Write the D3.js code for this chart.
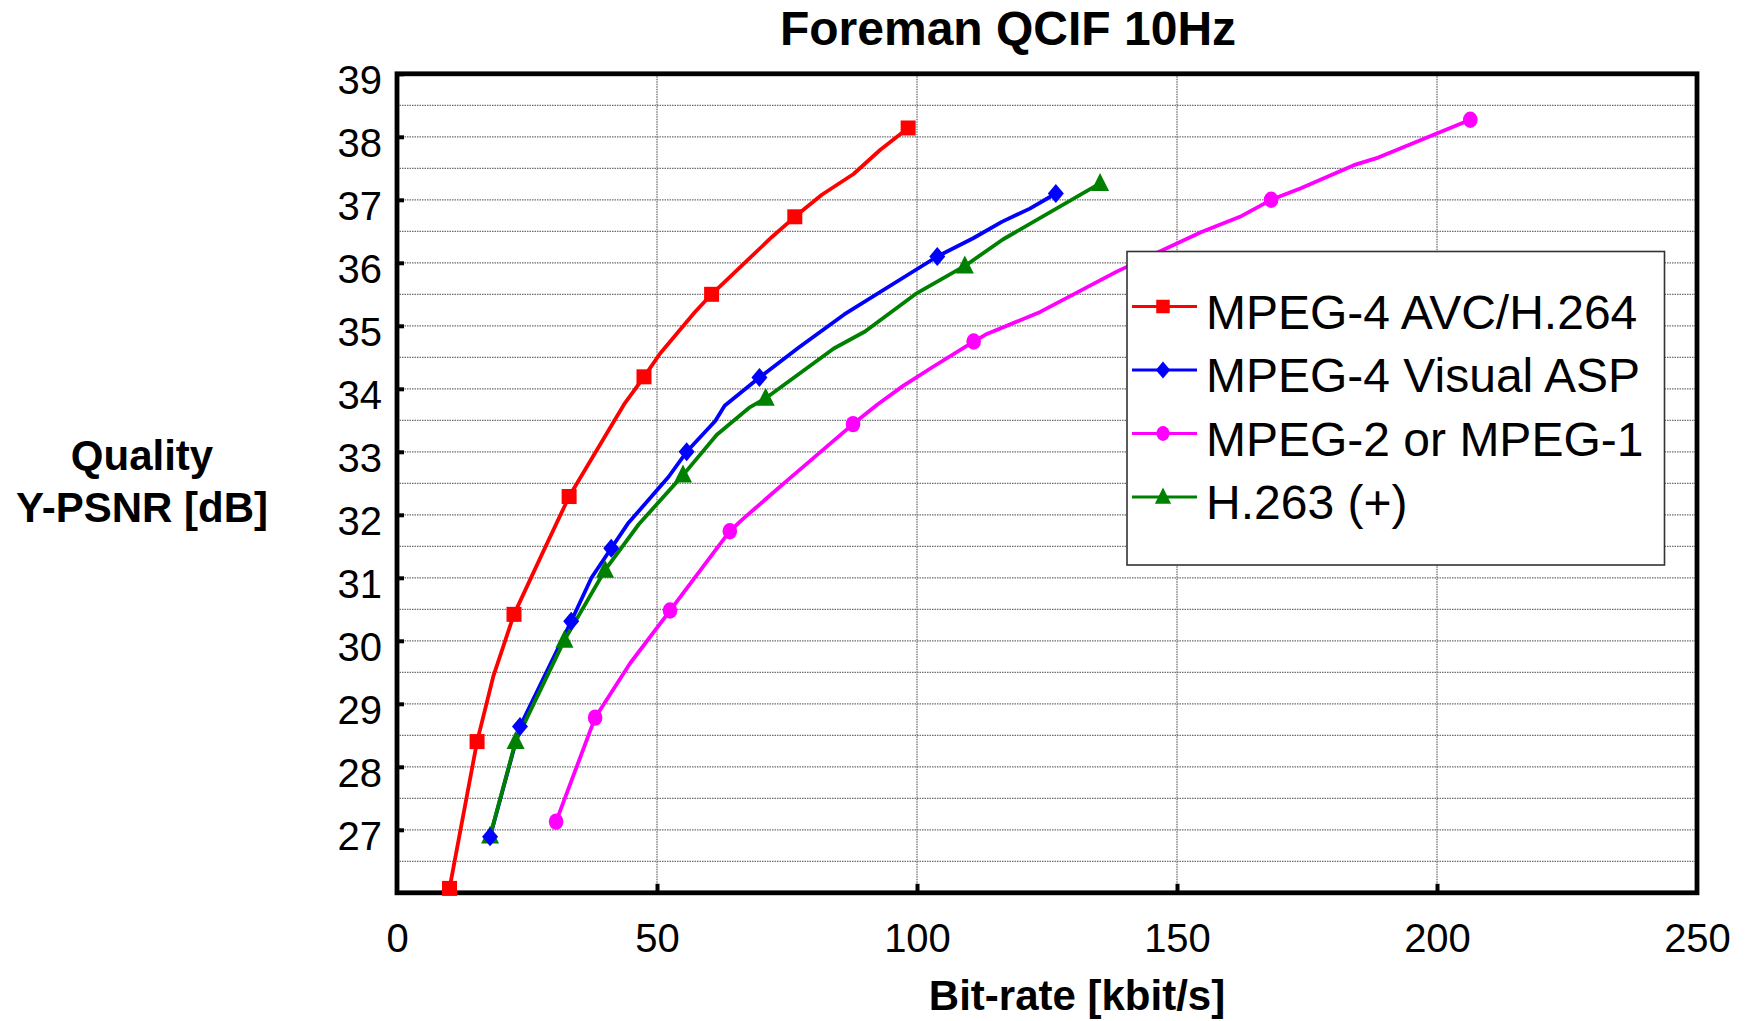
<!DOCTYPE html>
<html>
<head>
<meta charset="utf-8">
<script src="https://cdn.jsdelivr.net/npm/d3@7"></script>
<style>
  html, body { margin: 0; padding: 0; background: #fff; }
  svg { display: block; }
  text { font-family: "Liberation Sans", Arial, Helvetica, sans-serif; fill: #000; }
</style>
</head>
<body>
<svg id="chart" width="1754" height="1021"></svg>
<script>
// ---------------- data ----------------
const chartTitle = "Foreman QCIF 10Hz";
const xTitle = "Bit-rate [kbit/s]";
const yTitleLines = ["Quality", "Y-PSNR [dB]"];

const xTickValues = [0, 50, 100, 150, 200, 250];
const yTickValues = [27, 28, 29, 30, 31, 32, 33, 34, 35, 36, 37, 38, 39];

const seriesNames = ["MPEG-4 AVC/H.264", "MPEG-4 Visual ASP", "MPEG-2 or MPEG-1", "H.263 (+)"];

// MPEG-4 AVC/H.264
const avcRate = [10.1, 15.4, 18.5, 22.5, 27.8, 33.1, 43.8, 47.5, 50.6, 57.3, 60.5, 72.1, 76.5, 81.7, 87.8, 92.9, 98.3];
const avcPsnr = [26.07, 28.40, 29.43, 30.42, 31.36, 32.29, 33.77, 34.19, 34.56, 35.22, 35.50, 36.41, 36.73, 37.08, 37.41, 37.79, 38.14];
const avcMarked = [0, 1, 3, 5, 7, 10, 12, 16];

// MPEG-4 Visual ASP
const aspRate = [17.9, 23.65, 33.5, 37.4, 41.2, 44.4, 52.2, 55.7, 61.2, 63.0, 69.7, 77.2, 86.0, 103.9, 110.8, 116.3, 121.7, 126.7];
const aspPsnr = [26.89, 28.64, 30.31, 31.00, 31.47, 31.86, 32.60, 33.00, 33.49, 33.73, 34.18, 34.65, 35.18, 36.10, 36.39, 36.65, 36.86, 37.10];
const aspMarked = [0, 1, 2, 4, 7, 10, 13, 17];

// MPEG-2 or MPEG-1
const mp2Rate = [30.6, 38.1, 44.8, 52.5, 64.0, 66.6, 75.4, 87.7, 92.4, 97.4, 103.1, 110.9, 113.2, 123.7, 138.4, 154.7, 162.1, 168.1, 173.7, 184.0, 188.7, 206.4];
const mp2Psnr = [27.13, 28.78, 29.64, 30.48, 31.74, 31.94, 32.57, 33.44, 33.75, 34.05, 34.35, 34.75, 34.86, 35.22, 35.86, 36.49, 36.73, 37.00, 37.18, 37.55, 37.67, 38.27];
const mp2Marked = [0, 1, 3, 4, 7, 11, 17, 21];

// H.263 (+)
const h263Rate = [17.9, 22.8, 32.2, 40.0, 46.5, 55.0, 61.5, 67.9, 70.9, 84.0, 90.0, 100.0, 109.2, 116.5, 135.2];
const h263Psnr = [26.90, 28.40, 30.01, 31.12, 31.85, 32.63, 33.27, 33.71, 33.85, 34.64, 34.91, 35.52, 35.95, 36.37, 37.26];
const h263Marked = [0, 1, 2, 3, 5, 8, 12, 14];

// ---------------- drawing ----------------
const svg = d3.select("#chart");
const plotLeft = 397, plotRight = 1697, plotTop = 73.8, plotBottom = 892.8;

const x = d3.scaleLinear().domain([0, 250]).range([plotLeft, plotRight]);
const y = d3.scaleLinear().domain([26, 39]).range([plotBottom, plotTop]);

const series = [
  { name: seriesNames[0], rate: avcRate, psnr: avcPsnr, marked: avcMarked, color: "#ff0000", symbol: "square" },
  { name: seriesNames[1], rate: aspRate, psnr: aspPsnr, marked: aspMarked, color: "#0000ff", symbol: "diamond" },
  { name: seriesNames[2], rate: mp2Rate, psnr: mp2Psnr, marked: mp2Marked, color: "#ff00ff", symbol: "circle" },
  { name: seriesNames[3], rate: h263Rate, psnr: h263Psnr, marked: h263Marked, color: "#008000", symbol: "triangle" }
];

// gridlines
const grid = svg.append("g");
grid.selectAll("line.h")
  .data(y.ticks(26).filter(v => v > 26 && v < 39))
  .join("line")
  .attr("x1", plotLeft).attr("x2", plotRight)
  .attr("y1", d => y(d)).attr("y2", d => y(d))
  .attr("stroke", "#6e6e6e").attr("stroke-width", 1.3)
  .attr("stroke-dasharray", "1.5,1");
grid.selectAll("line.v")
  .data(xTickValues.filter(v => v > 0 && v < 250))
  .join("line")
  .attr("x1", d => x(d)).attr("x2", d => x(d))
  .attr("y1", plotTop).attr("y2", plotBottom)
  .attr("stroke", "#6e6e6e").attr("stroke-width", 1.3)
  .attr("stroke-dasharray", "1.5,1");

// frame
svg.append("rect")
  .attr("x", plotLeft).attr("y", plotTop)
  .attr("width", plotRight - plotLeft).attr("height", plotBottom - plotTop)
  .attr("fill", "none").attr("stroke", "#000").attr("stroke-width", 4.8);

// axes via d3 axis (inward ticks)
const yAxis = d3.axisLeft(y).tickValues(yTickValues).tickSize(-7).tickPadding(0).tickFormat(d3.format("d"));
const yg = svg.append("g").attr("transform", `translate(${plotLeft},0)`).call(yAxis);
yg.select(".domain").remove();
yg.selectAll(".tick line").attr("stroke", "#000").attr("stroke-width", 4);
yg.selectAll(".tick text")
  .attr("x", -15).attr("dy", "0.5em")
  .attr("font-size", 40).attr("text-anchor", "end")
  .attr("fill", "#000");

const xAxis = d3.axisBottom(x).tickValues(xTickValues).tickSize(-9).tickPadding(0).tickFormat(d3.format("d"));
const xg = svg.append("g").attr("transform", `translate(0,${plotBottom})`).call(xAxis);
xg.select(".domain").remove();
xg.selectAll(".tick line").attr("stroke", "#000").attr("stroke-width", 4)
  .attr("display", d => (d === 0 || d === 250) ? "none" : null);
xg.selectAll(".tick text")
  .attr("y", 59).attr("dy", 0)
  .attr("font-size", 40)
  .attr("fill", "#000");

// symbol drawing helper
function drawSymbol(g, type, color, cx, cy, k) {
  if (type === "square") {
    g.append("rect").attr("x", cx - 7.5 * k).attr("y", cy - 7.5 * k).attr("width", 15 * k).attr("height", 15 * k).attr("fill", color);
  } else if (type === "diamond") {
    g.append("path").attr("d", `M${cx},${cy - 9.5 * k}L${cx + 8 * k},${cy}L${cx},${cy + 9.5 * k}L${cx - 8 * k},${cy}Z`).attr("fill", color);
  } else if (type === "circle") {
    g.append("ellipse").attr("cx", cx).attr("cy", cy).attr("rx", 7.3 * k).attr("ry", 8.2 * k).attr("fill", color);
  } else {
    g.append("path").attr("d", `M${cx},${cy - 10.5 * k}L${cx + 9 * k},${cy + 7.5 * k}L${cx - 9 * k},${cy + 7.5 * k}Z`).attr("fill", color);
  }
}

// series lines and markers
const line = d3.line().x(d => x(d[0])).y(d => y(d[1]));
const plotG = svg.append("g");
series.forEach(s => {
  const pts = s.rate.map((r, i) => [r, s.psnr[i]]);
  plotG.append("path").datum(pts)
    .attr("d", line).attr("fill", "none")
    .attr("stroke", s.color).attr("stroke-width", 3.8)
    .attr("stroke-linejoin", "round").attr("stroke-linecap", "round");
});
// draw markers in reverse series order so red/blue on top
[...series].reverse().forEach(s => {
  const mg = plotG.append("g");
  s.marked.forEach(i => drawSymbol(mg, s.symbol, s.color, x(s.rate[i]), y(s.psnr[i]), 1));
});

// legend
const lg = svg.append("g");
lg.append("rect")
  .attr("x", 1127).attr("y", 251.5).attr("width", 537.5).attr("height", 313.5)
  .attr("fill", "#fff").attr("stroke", "#333").attr("stroke-width", 1.6);
series.forEach((s, i) => {
  const ly = 306.5 + i * 63.5;
  lg.append("line").attr("x1", 1132).attr("x2", 1197).attr("y1", ly).attr("y2", ly)
    .attr("stroke", s.color).attr("stroke-width", 2.8);
  drawSymbol(lg, s.symbol, s.color, 1163, ly, 0.9);
  lg.append("text").attr("x", 1206).attr("y", ly + 22).attr("font-size", 48).text(s.name);
});

// titles
svg.append("text").attr("x", 1008).attr("y", 44.5).attr("text-anchor", "middle")
  .attr("font-size", 48).attr("font-weight", "bold").text(chartTitle);
svg.append("text").attr("x", 1077).attr("y", 1010).attr("text-anchor", "middle")
  .attr("font-size", 42).attr("font-weight", "bold").text(xTitle);
svg.append("text").attr("x", 142).attr("y", 470).attr("text-anchor", "middle")
  .attr("font-size", 42).attr("font-weight", "bold").text(yTitleLines[0]);
svg.append("text").attr("x", 142).attr("y", 522).attr("text-anchor", "middle")
  .attr("font-size", 42).attr("font-weight", "bold").text(yTitleLines[1]);
</script>
</body>
</html>
